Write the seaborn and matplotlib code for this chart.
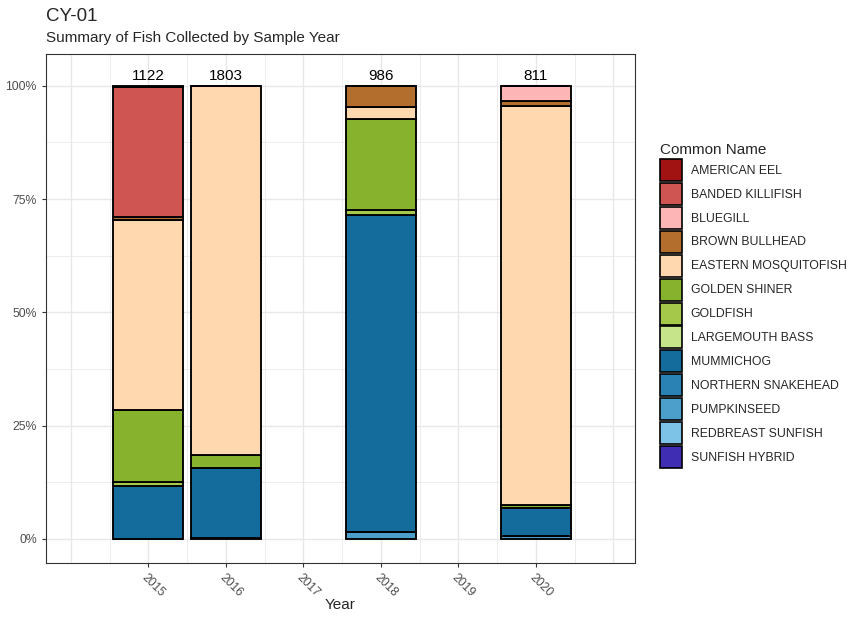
import numpy as np
import pandas as pd
import matplotlib
matplotlib.use("Agg")
import matplotlib.pyplot as plt
from matplotlib.patches import Patch
from matplotlib.ticker import FixedLocator, PercentFormatter
import seaborn as sns

# species in legend order (first level is stacked on top, like ggplot)
species = ['AMERICAN EEL', 'BANDED KILLIFISH', 'BLUEGILL', 'BROWN BULLHEAD',
           'EASTERN MOSQUITOFISH', 'GOLDEN SHINER', 'GOLDFISH', 'LARGEMOUTH BASS',
           'MUMMICHOG', 'NORTHERN SNAKEHEAD', 'PUMPKINSEED', 'REDBREAST SUNFISH',
           'SUNFISH HYBRID']
colors = ['#A11313', '#CF5552', '#FDB5B5', '#B36E2E', '#FFD8B0', '#86B22E',
          '#A5C84A', '#C6E48A', '#136C9B', '#2A81B4', '#4C9FCB', '#7DC2E7',
          '#3F2DB3']

# counts per year
years = [2015, 2016, 2018, 2020]
counts = {
    2015: {'AMERICAN EEL': 4, 'BANDED KILLIFISH': 320, 'BROWN BULLHEAD': 8,
           'EASTERN MOSQUITOFISH': 470, 'GOLDEN SHINER': 178, 'GOLDFISH': 11,
           'MUMMICHOG': 131},
    2016: {'EASTERN MOSQUITOFISH': 1469, 'GOLDEN SHINER': 51, 'MUMMICHOG': 278,
           'PUMPKINSEED': 5},
    2018: {'BROWN BULLHEAD': 47, 'EASTERN MOSQUITOFISH': 26, 'GOLDEN SHINER': 198,
           'GOLDFISH': 10, 'MUMMICHOG': 689, 'PUMPKINSEED': 16},
    2020: {'BLUEGILL': 27, 'BROWN BULLHEAD': 10, 'EASTERN MOSQUITOFISH': 714,
           'GOLDEN SHINER': 4, 'MUMMICHOG': 50, 'PUMPKINSEED': 6},
}

rows = []
for y in years:
    for sp, n in counts[y].items():
        rows.append({'Year': y, 'Common Name': sp, 'Count': n})
df = pd.DataFrame(rows)
totals = df.groupby('Year')['Count'].sum()

sns.set_style('white')
plt.rcParams['font.family'] = ['Liberation Sans', 'DejaVu Sans']

fig = plt.figure(figsize=(8.61, 6.22), dpi=100)
ax = fig.add_axes([0.0534, 0.0949, 0.6841, 0.8183])

ax.set_xlim(2013.68, 2021.28)
ax.set_ylim(-0.053, 1.07)

# ggplot theme_bw style grid
for v in np.arange(2014, 2021.01, 0.5):
    ax.axvline(v, color='#e8e8e8', lw=1.0 if v % 1 == 0 else 0.55, zorder=0)
for v in np.arange(0, 1.01, 0.125):
    ax.axhline(v, color='#e8e8e8', lw=1.0 if (v * 4) % 1 == 0 else 0.55, zorder=0)

sns.histplot(data=df, x='Year', hue='Common Name', weights='Count',
             hue_order=species, palette=dict(zip(species, colors)),
             multiple='fill', discrete=True, shrink=0.9, alpha=1,
             edgecolor='black', linewidth=1.35, legend=False, ax=ax, zorder=2)

for y in years:
    ax.text(y, 1.022, str(totals[y]), ha='center', va='center', fontsize=11,
            color='black')

ax.xaxis.set_major_locator(FixedLocator([2015, 2016, 2017, 2018, 2019, 2020]))
ax.yaxis.set_major_locator(FixedLocator([0, 0.25, 0.5, 0.75, 1.0]))
ax.yaxis.set_major_formatter(PercentFormatter(1.0, decimals=0))
ax.tick_params(axis='both', length=3, color='#333333', labelsize=8.8,
               labelcolor='#4d4d4d', direction='out', bottom=True, left=True)
for lab in ax.get_xticklabels():
    lab.set_rotation(-45)
    lab.set_ha('left')
    lab.set_va('top')
    lab.set_rotation_mode('anchor')
ax.set_xlabel('')
ax.set_ylabel('')
fig.text(0.3955, 0.027, 'Year', fontsize=11, ha='center', va='center')
for s in ax.spines.values():
    s.set_color('#333333')
    s.set_linewidth(0.8)

fig.text(0.053, 0.973, 'CY-01', fontsize=13.5, ha='left', va='center')
fig.text(0.053, 0.939, 'Summary of Fish Collected by Sample Year', fontsize=11,
         ha='left', va='center')

handles = [Patch(facecolor=c, edgecolor='black', linewidth=1.2) for c in colors]
leg = fig.legend(handles, species, loc='upper left',
                 bbox_to_anchor=(0.7605, 0.778), frameon=False,
                 fontsize=8.8, title='Common Name', title_fontsize=11,
                 handlelength=1.8, handleheight=2.39, labelspacing=0.16,
                 handletextpad=0.74, borderaxespad=0)
leg._legend_box.align = 'left'

fig.savefig('out.png', dpi=100)
